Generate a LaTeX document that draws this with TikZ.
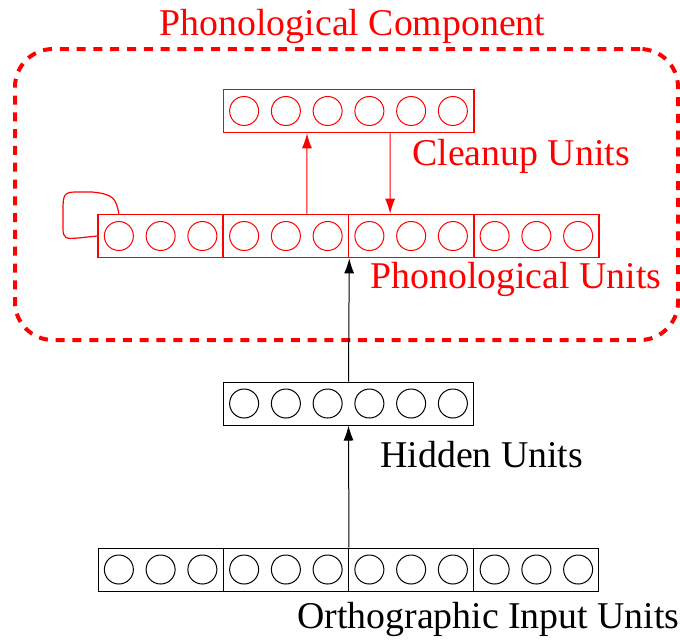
\documentclass[tikz,border=0pt]{standalone}
\usepackage{fontspec}
\setmainfont{Liberation Serif}
\usetikzlibrary{shapes, arrows.meta, positioning, calc}

\begin{document}
\begin{tikzpicture}[
    x=0.5pt, y=-0.5pt,
    layer/.style={rectangle, draw, minimum height=21.5pt, inner sep=0, line width=0.5pt},
    group/.style={layer, minimum width=62.6pt},
    wide/.style={layer, minimum width=125.2pt},
    unit/.style={circle, draw, minimum size=14.5pt, inner sep=0, line width=0.5pt},
    unitname/.style={font=\fontsize{18.9}{22}\selectfont, inner sep=0, anchor=base west},
    line/.style={draw, line width=0.5pt, -{Latex[length=7.5pt, width=5pt]}},
    frame/.style={rectangle, draw=red, line width=2pt, dash pattern=on 4.5pt off 3.9pt, rounded corners=19pt}
]
\useasboundingbox (0,0) rectangle (680,639);

% Phonological component frame
\node[frame, minimum width=331.5pt, minimum height=145.5pt] (phoncomp) at (346.5,194.5) {};
\node[unitname, red, anchor=base] (phontitle) at ([xshift=3pt, yshift=6pt]phoncomp.north) {Phonological Component};

% Orthographic input units
\foreach \i in {1,...,4} {
  \node[group] (in\i) at ({98+125.25*(\i-0.5)},569.5) {};
  \foreach \k [count=\j] in {-1,0,1}
    \node[unit] (in\i c\j) at ($(in\i)+(\k*41.75,0)$) {};
}

% Hidden units
\node[wide] (hid) at (348.5,403.5) {};
\foreach \k [count=\j] in {-2.5,-1.5,-0.5,0.5,1.5,2.5}
  \node[unit] (hid c\j) at ($(hid)+(\k*41.75,0)$) {};

% Phonological units
\begin{scope}[red, layer/.append style={line width=0.8pt}]
\foreach \i in {1,...,4} {
  \node[group] (ph\i) at ({98+125.25*(\i-0.5)},236) {};
  \foreach \k [count=\j] in {-1,0,1}
    \node[unit] (ph\i c\j) at ($(ph\i)+(\k*41.75,0)$) {};
}

% Cleanup units
\node[wide] (clean) at (348.5,111) {};
\foreach \k [count=\j] in {-2.5,-1.5,-0.5,0.5,1.5,2.5}
  \node[unit] (clean c\j) at ($(clean)+(\k*41.75,0)$) {};
\end{scope}

% Labels
\node[unitname, red] (cleanlbl) at (412,165) {Cleanup Units};
\node[unitname, red] (phlbl) at (370,288) {Phonological Units};
\node[unitname] (hidlbl) at (380,467) {Hidden Units};
\node[unitname] (inlbl) at (297,628) {Orthographic Input Units};

% Connections
\path[line] (in2.north east) -- (hid.south);
\path[line] (hid.north) -- (ph2.south east);
\path[line, red] ([xshift=10.5pt]ph2.north) -- ([xshift=-20.75pt]clean.south);
\path[line, red] ([xshift=20.75pt]clean.south) -- ([xshift=-10.5pt]ph3.north);

% Self connection
\draw[red, line width=0.6pt] (ph1c1 |- ph1.north) .. controls (116,199) and (114,194) .. (92,192)
  -- (76,192) .. controls (64,192) and (63,195) .. (63,210) -- (63,228)
  .. controls (63,239) and (66,239) .. (78,238) -- (ph1.west);

\end{tikzpicture}
\end{document}
